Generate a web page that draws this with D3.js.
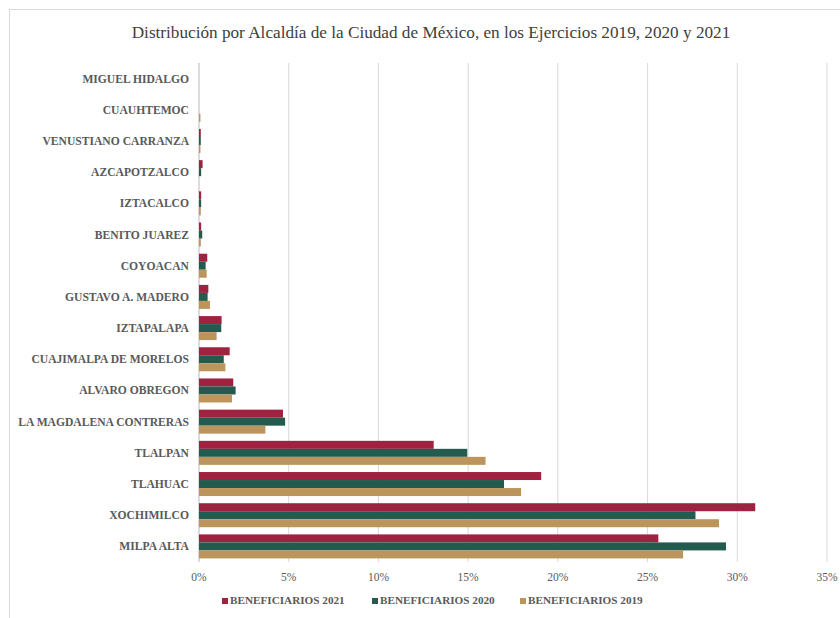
<!DOCTYPE html>
<html>
<head>
<meta charset="utf-8">
<script src="https://cdn.jsdelivr.net/npm/d3@7"></script>
<style>
  body { margin: 0; background: #fff; }
</style>
</head>
<body>
<div id="chart"></div>
<script>
// Alcaldías, top to bottom
const categories = [
    'MIGUEL HIDALGO', 'CUAUHTEMOC', 'VENUSTIANO CARRANZA', 'AZCAPOTZALCO',
    'IZTACALCO', 'BENITO JUAREZ', 'COYOACAN', 'GUSTAVO A. MADERO',
    'IZTAPALAPA', 'CUAJIMALPA DE MORELOS', 'ALVARO OBREGON',
    'LA MAGDALENA CONTRERAS', 'TLALPAN', 'TLAHUAC', 'XOCHIMILCO', 'MILPA ALTA'
];

// percent of beneficiaries per year
const values2021 = [0, 0, 0.1, 0.2, 0.12, 0.12, 0.46, 0.52, 1.26, 1.71, 1.91, 4.68, 13.08, 19.07, 31.0, 25.6];
const values2020 = [0, 0, 0.1, 0.12, 0.12, 0.18, 0.37, 0.48, 1.24, 1.38, 2.04, 4.8, 14.95, 17.0, 27.67, 29.37];
const values2019 = [0, 0.08, 0.08, 0, 0.1, 0.1, 0.43, 0.61, 0.98, 1.47, 1.84, 3.7, 15.97, 17.95, 28.98, 26.98];

const seriesNames = ['BENEFICIARIOS 2021', 'BENEFICIARIOS 2020', 'BENEFICIARIOS 2019'];
const seriesColors = ['#9F2241', '#235B4E', '#BC955C'];
const seriesValues = [values2021, values2020, values2019];

const xTicks = [0, 5, 10, 15, 20, 25, 30, 35];

const width = 840, height = 618;
const plot = { left: 199, right: 827, top: 63, bottom: 562 };
const serif = "'Liberation Serif', 'Times New Roman', Times, serif";

const svg = d3.select('#chart').append('svg')
    .attr('width', width)
    .attr('height', height)
    .attr('font-family', serif);

// chart frame
svg.append('rect')
    .attr('x', 9.5).attr('y', 9.5)
    .attr('width', 900).attr('height', 700)
    .attr('fill', '#fff')
    .attr('stroke', '#d9d9d9');

svg.append('text')
    .attr('x', 431).attr('y', 38)
    .attr('text-anchor', 'middle')
    .attr('font-size', 17.2)
    .attr('fill', '#404040')
    .text('Distribución por Alcaldía de la Ciudad de México, en los Ejercicios 2019, 2020 y 2021');

const x = d3.scaleLinear().domain([0, 35]).range([plot.left, plot.right]);

const y = d3.scaleBand()
    .domain(categories)
    .range([plot.top, plot.bottom])
    .paddingInner(0.23)
    .paddingOuter(0.115);

const ySub = d3.scaleBand()
    .domain(seriesNames)
    .range([0, y.bandwidth()]);

// gridlines
svg.append('g')
    .selectAll('line')
    .data(xTicks)
    .enter()
    .append('line')
    .attr('x1', d => x(d)).attr('x2', d => x(d))
    .attr('y1', plot.top).attr('y2', plot.bottom)
    .attr('stroke', d => d === 0 ? '#cfcfcf' : '#d9d9d9')
    .attr('stroke-width', d => d === 0 ? 1.5 : 1);

// x tick labels
svg.append('g')
    .selectAll('text')
    .data(xTicks)
    .enter()
    .append('text')
    .attr('x', d => x(d))
    .attr('y', 581)
    .attr('text-anchor', 'middle')
    .attr('font-size', 11.5)
    .attr('fill', '#595959')
    .text(d => d + '%');

// category labels
svg.append('g')
    .selectAll('text')
    .data(categories)
    .enter()
    .append('text')
    .attr('x', 189)
    .attr('y', d => y(d) + y.bandwidth() / 2 + 4)
    .attr('text-anchor', 'end')
    .attr('font-size', 11.6)
    .attr('font-weight', 'bold')
    .attr('fill', '#595959')
    .text(d => d);

// bars
seriesNames.forEach((name, i) => {
    svg.append('g')
        .selectAll('rect')
        .data(seriesValues[i].map((v, j) => ({ cat: categories[j], v })))
        .enter()
        .append('rect')
        .attr('x', x(0))
        .attr('y', d => y(d.cat) + ySub(name))
        .attr('width', d => x(d.v) - x(0))
        .attr('height', ySub.bandwidth())
        .attr('fill', seriesColors[i]);
});

// legend
const legendX = [222, 372, 520];
const legend = svg.append('g')
    .selectAll('g')
    .data(seriesNames)
    .enter()
    .append('g')
    .attr('transform', (d, i) => `translate(${legendX[i]}, 604)`);

legend.append('rect')
    .attr('x', 0).attr('y', -6)
    .attr('width', 6).attr('height', 6)
    .attr('fill', (d, i) => seriesColors[i]);

legend.append('text')
    .attr('x', 8)
    .attr('y', 0)
    .attr('font-size', 11.2)
    .attr('font-weight', 'bold')
    .attr('fill', '#595959')
    .text(d => d);
</script>
</body>
</html>
